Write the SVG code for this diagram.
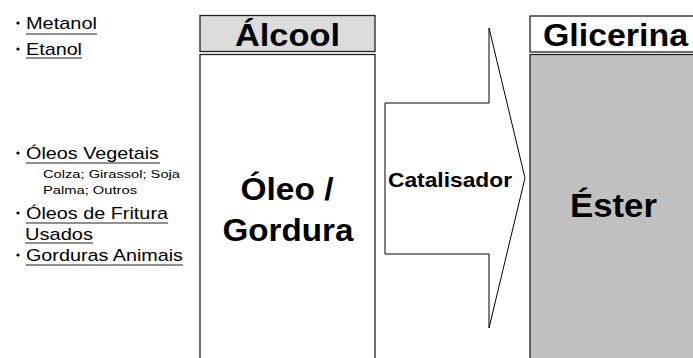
<svg xmlns="http://www.w3.org/2000/svg" width="693" height="358" viewBox="0 0 693 358">
<style>
.box{stroke:#222;stroke-width:1.3}
.hdr{font-family:"Liberation Sans",Arial,sans-serif;font-weight:bold;font-size:31px;fill:#000}
.big{font-family:"Liberation Sans",Arial,sans-serif;font-weight:bold;font-size:31px;fill:#000;text-anchor:middle}
.lst{font-family:"Liberation Sans",Arial,sans-serif;font-size:17px;fill:#000}
.sml{font-family:"Liberation Sans",Arial,sans-serif;font-size:11px;fill:#000}
.ul{stroke:#222;stroke-width:1.2}
</style>
<rect width="693" height="358" fill="#fff"/>
<g id="lista">
  <circle cx="18" cy="23" r="1.6"/>
  <text class="lst" x="26" y="29" textLength="71" lengthAdjust="spacingAndGlyphs">Metanol</text>
  <line class="ul" x1="26" y1="34" x2="97" y2="34"/>
  <circle cx="18" cy="49" r="1.6"/>
  <text class="lst" x="26" y="55" textLength="56" lengthAdjust="spacingAndGlyphs">Etanol</text>
  <line class="ul" x1="26" y1="58" x2="82" y2="58"/>
  <circle cx="18" cy="153" r="1.6"/>
  <text class="lst" x="26" y="159" textLength="133" lengthAdjust="spacingAndGlyphs">Óleos Vegetais</text>
  <line class="ul" x1="26" y1="163" x2="160" y2="163"/>
  <text class="sml" x="43" y="178" textLength="137" lengthAdjust="spacingAndGlyphs">Colza; Girassol; Soja</text>
  <text class="sml" x="43" y="194" textLength="94" lengthAdjust="spacingAndGlyphs">Palma; Outros</text>
  <circle cx="18" cy="213" r="1.6"/>
  <text class="lst" x="26" y="219" textLength="142" lengthAdjust="spacingAndGlyphs">Óleos de Fritura</text>
  <line class="ul" x1="26" y1="223" x2="168" y2="223"/>
  <text class="lst" x="25" y="240" textLength="68" lengthAdjust="spacingAndGlyphs">Usados</text>
  <line class="ul" x1="25" y1="243" x2="93" y2="243"/>
  <circle cx="18" cy="255" r="1.6"/>
  <text class="lst" x="26" y="261" textLength="157" lengthAdjust="spacingAndGlyphs">Gorduras Animais</text>
  <line class="ul" x1="26" y1="265" x2="183" y2="265"/>
</g>
<g id="alcool">
  <rect class="box" x="200" y="15.5" width="175" height="36" fill="#dcdcdc"/>
  <text class="hdr" x="235" y="46" textLength="105" lengthAdjust="spacingAndGlyphs">Álcool</text>
</g>
<g id="oleo">
  <rect class="box" x="200" y="54.5" width="175" height="310" fill="#fff"/>
  <text class="big" x="287" y="200" textLength="93" lengthAdjust="spacingAndGlyphs">Óleo /</text>
  <text class="big" x="288" y="241" textLength="131" lengthAdjust="spacingAndGlyphs">Gordura</text>
</g>
<g id="catalisador">
  <polygon points="489,28 525,178 489,328 489,254 385,254 385,103 489,103" fill="#fff" stroke="#000" stroke-width="1"/>
  <text class="hdr" x="388" y="187" style="font-size:20px" textLength="124" lengthAdjust="spacingAndGlyphs">Catalisador</text>
</g>
<g id="glicerina">
  <rect class="box" x="530" y="16" width="170" height="36" fill="#fff"/>
  <text class="hdr" x="543" y="46" textLength="145" lengthAdjust="spacingAndGlyphs">Glicerina</text>
</g>
<g id="ester">
  <rect class="box" x="530" y="54.5" width="170" height="310" fill="#c0c0c0"/>
  <text class="hdr" x="570" y="217" style="font-size:33px" textLength="87" lengthAdjust="spacingAndGlyphs">Éster</text>
</g>
<g id="connectors"/>
</svg>
